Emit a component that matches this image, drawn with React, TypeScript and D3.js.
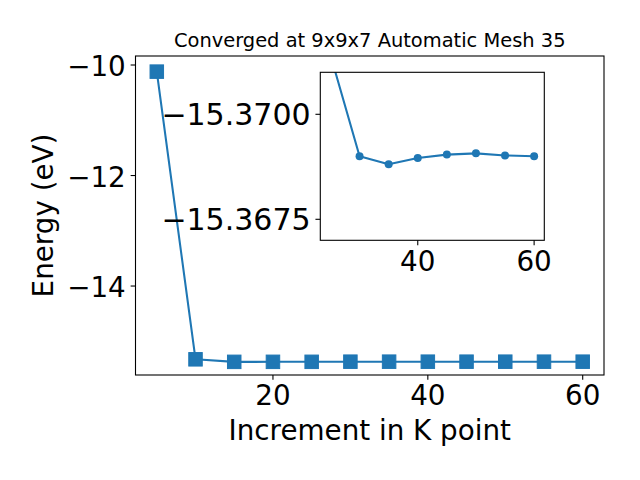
import React from "react";
import * as d3 from "d3";

const kpoints = [5, 10, 15, 20, 25, 30, 35, 40, 45, 50, 55, 60];
const energies = [-10.12, -15.326, -15.372, -15.3716, -15.37141, -15.369, -15.36881, -15.36896, -15.36904, -15.36907, -15.36902, -15.369];
const mainXTicks = [20, 40, 60];
const mainYTicks = [-10, -12, -14];
const insetXTicks = [40, 60];
const insetYTicks = [-15.37, -15.3675];
const insetMinK = 25;

const W = 640;
const H = 480;
const COLOR = "#1f77b4";
const FONT = "DejaVu Sans, sans-serif";
const minus = (s: string) => s.replace("-", "\u2212");

export default function App() {
  const m = { left: 135.5, right: 604, top: 56, bottom: 375 };
  const x = d3.scaleLinear().domain([2.25, 62.75]).range([m.left, m.right]);
  const y = d3.scaleLinear().domain([-15.61, -9.837]).range([m.bottom, m.top]);

  const ins = { left: 320.3, right: 544.3, top: 72.3, bottom: 240.3 };
  const ix = d3.scaleLinear().domain([23.25, 61.75]).range([ins.left, ins.right]);
  const iy = d3.scaleLinear().domain([-15.371, -15.367]).range([ins.top, ins.bottom]);

  const pts = kpoints.map((k, i) => ({ k, e: energies[i] }));
  const insetPts = pts.filter((p) => p.k >= insetMinK);

  const mainLine = d3.line<{ k: number; e: number }>().x((d) => x(d.k)).y((d) => y(d.e))(pts) || "";
  const insetLine = d3.line<{ k: number; e: number }>().x((d) => ix(d.k)).y((d) => iy(d.e))(insetPts) || "";

  const tickLen = 4.86;
  const pad = 4.86;
  const fs = 27.78;
  const fsInsetY = 30;
  const sq = 13.5;

  return (
    <svg width={W} height={H} style={{ position: "absolute", left: 0, top: 0, background: "#fff" }} fontFamily={FONT}>
      <defs>
        <clipPath id="mainClip">
          <rect x={m.left} y={m.top} width={m.right - m.left} height={m.bottom - m.top} />
        </clipPath>
        <clipPath id="insetClip">
          <rect x={ins.left} y={ins.top} width={ins.right - ins.left} height={ins.bottom - ins.top} />
        </clipPath>
      </defs>
      <rect x={0} y={0} width={W} height={H} fill="#fff" />

      {/* main plot */}
      <g clipPath="url(#mainClip)">
        <path d={mainLine} fill="none" stroke={COLOR} strokeWidth={2.08} strokeLinejoin="round" />
        {pts.map((p, i) => (
          <rect key={i} x={x(p.k) - sq / 2} y={y(p.e) - sq / 2} width={sq} height={sq} fill={COLOR} stroke={COLOR} strokeWidth={1} />
        ))}
      </g>
      <rect x={m.left} y={m.top} width={m.right - m.left} height={m.bottom - m.top} fill="none" stroke="#000" strokeWidth={1.1} />
      {mainXTicks.map((t) => (
        <g key={t}>
          <line x1={x(t)} x2={x(t)} y1={m.bottom} y2={m.bottom + tickLen} stroke="#000" strokeWidth={1.1} />
          <text x={x(t)} y={m.bottom + tickLen + pad + 19.8} fontSize={fs} textAnchor="middle" fill="#000">
            {String(t)}
          </text>
        </g>
      ))}
      {mainYTicks.map((t) => (
        <g key={t}>
          <line x1={m.left - tickLen} x2={m.left} y1={y(t)} y2={y(t)} stroke="#000" strokeWidth={1.1} />
          <text x={m.left - tickLen - pad} y={y(t) + 11.2} fontSize={fs} textAnchor="end" fill="#000">
            {minus(String(t))}
          </text>
        </g>
      ))}
      <text x={(m.left + m.right) / 2} y={440} fontSize={fs} textAnchor="middle" fill="#000">
        Increment in K point
      </text>
      <text transform={`translate(53,${(m.top + m.bottom) / 2}) rotate(-90)`} fontSize={fs} textAnchor="middle" fill="#000">
        Energy (eV)
      </text>
      <text x={(m.left + m.right) / 2} y={47} fontSize={19.44} textAnchor="middle" fill="#000">
        Converged at 9x9x7 Automatic Mesh 35
      </text>

      {/* inset */}
      <rect x={ins.left} y={ins.top} width={ins.right - ins.left} height={ins.bottom - ins.top} fill="#fff" />
      <g clipPath="url(#insetClip)">
        <path d={insetLine} fill="none" stroke={COLOR} strokeWidth={2.08} strokeLinejoin="round" />
        {insetPts.map((p, i) => (
          <circle key={i} cx={ix(p.k)} cy={iy(p.e)} r={4} fill={COLOR} />
        ))}
      </g>
      <rect x={ins.left} y={ins.top} width={ins.right - ins.left} height={ins.bottom - ins.top} fill="none" stroke="#000" strokeWidth={1.1} />
      {insetXTicks.map((t) => (
        <g key={t}>
          <line x1={ix(t)} x2={ix(t)} y1={ins.bottom} y2={ins.bottom + tickLen} stroke="#000" strokeWidth={1.1} />
          <text x={ix(t)} y={ins.bottom + tickLen + pad + 20.5} fontSize={fs} textAnchor="middle" fill="#000">
            {String(t)}
          </text>
        </g>
      ))}
      {insetYTicks.map((t) => (
        <g key={t}>
          <line x1={ins.left - tickLen} x2={ins.left} y1={iy(t)} y2={iy(t)} stroke="#000" strokeWidth={1.1} />
          <text x={ins.left - tickLen - pad} y={iy(t) + 11} fontSize={fsInsetY} textAnchor="end" fill="#000">
            {minus(d3.format(".4f")(t))}
          </text>
        </g>
      ))}
    </svg>
  );
}
